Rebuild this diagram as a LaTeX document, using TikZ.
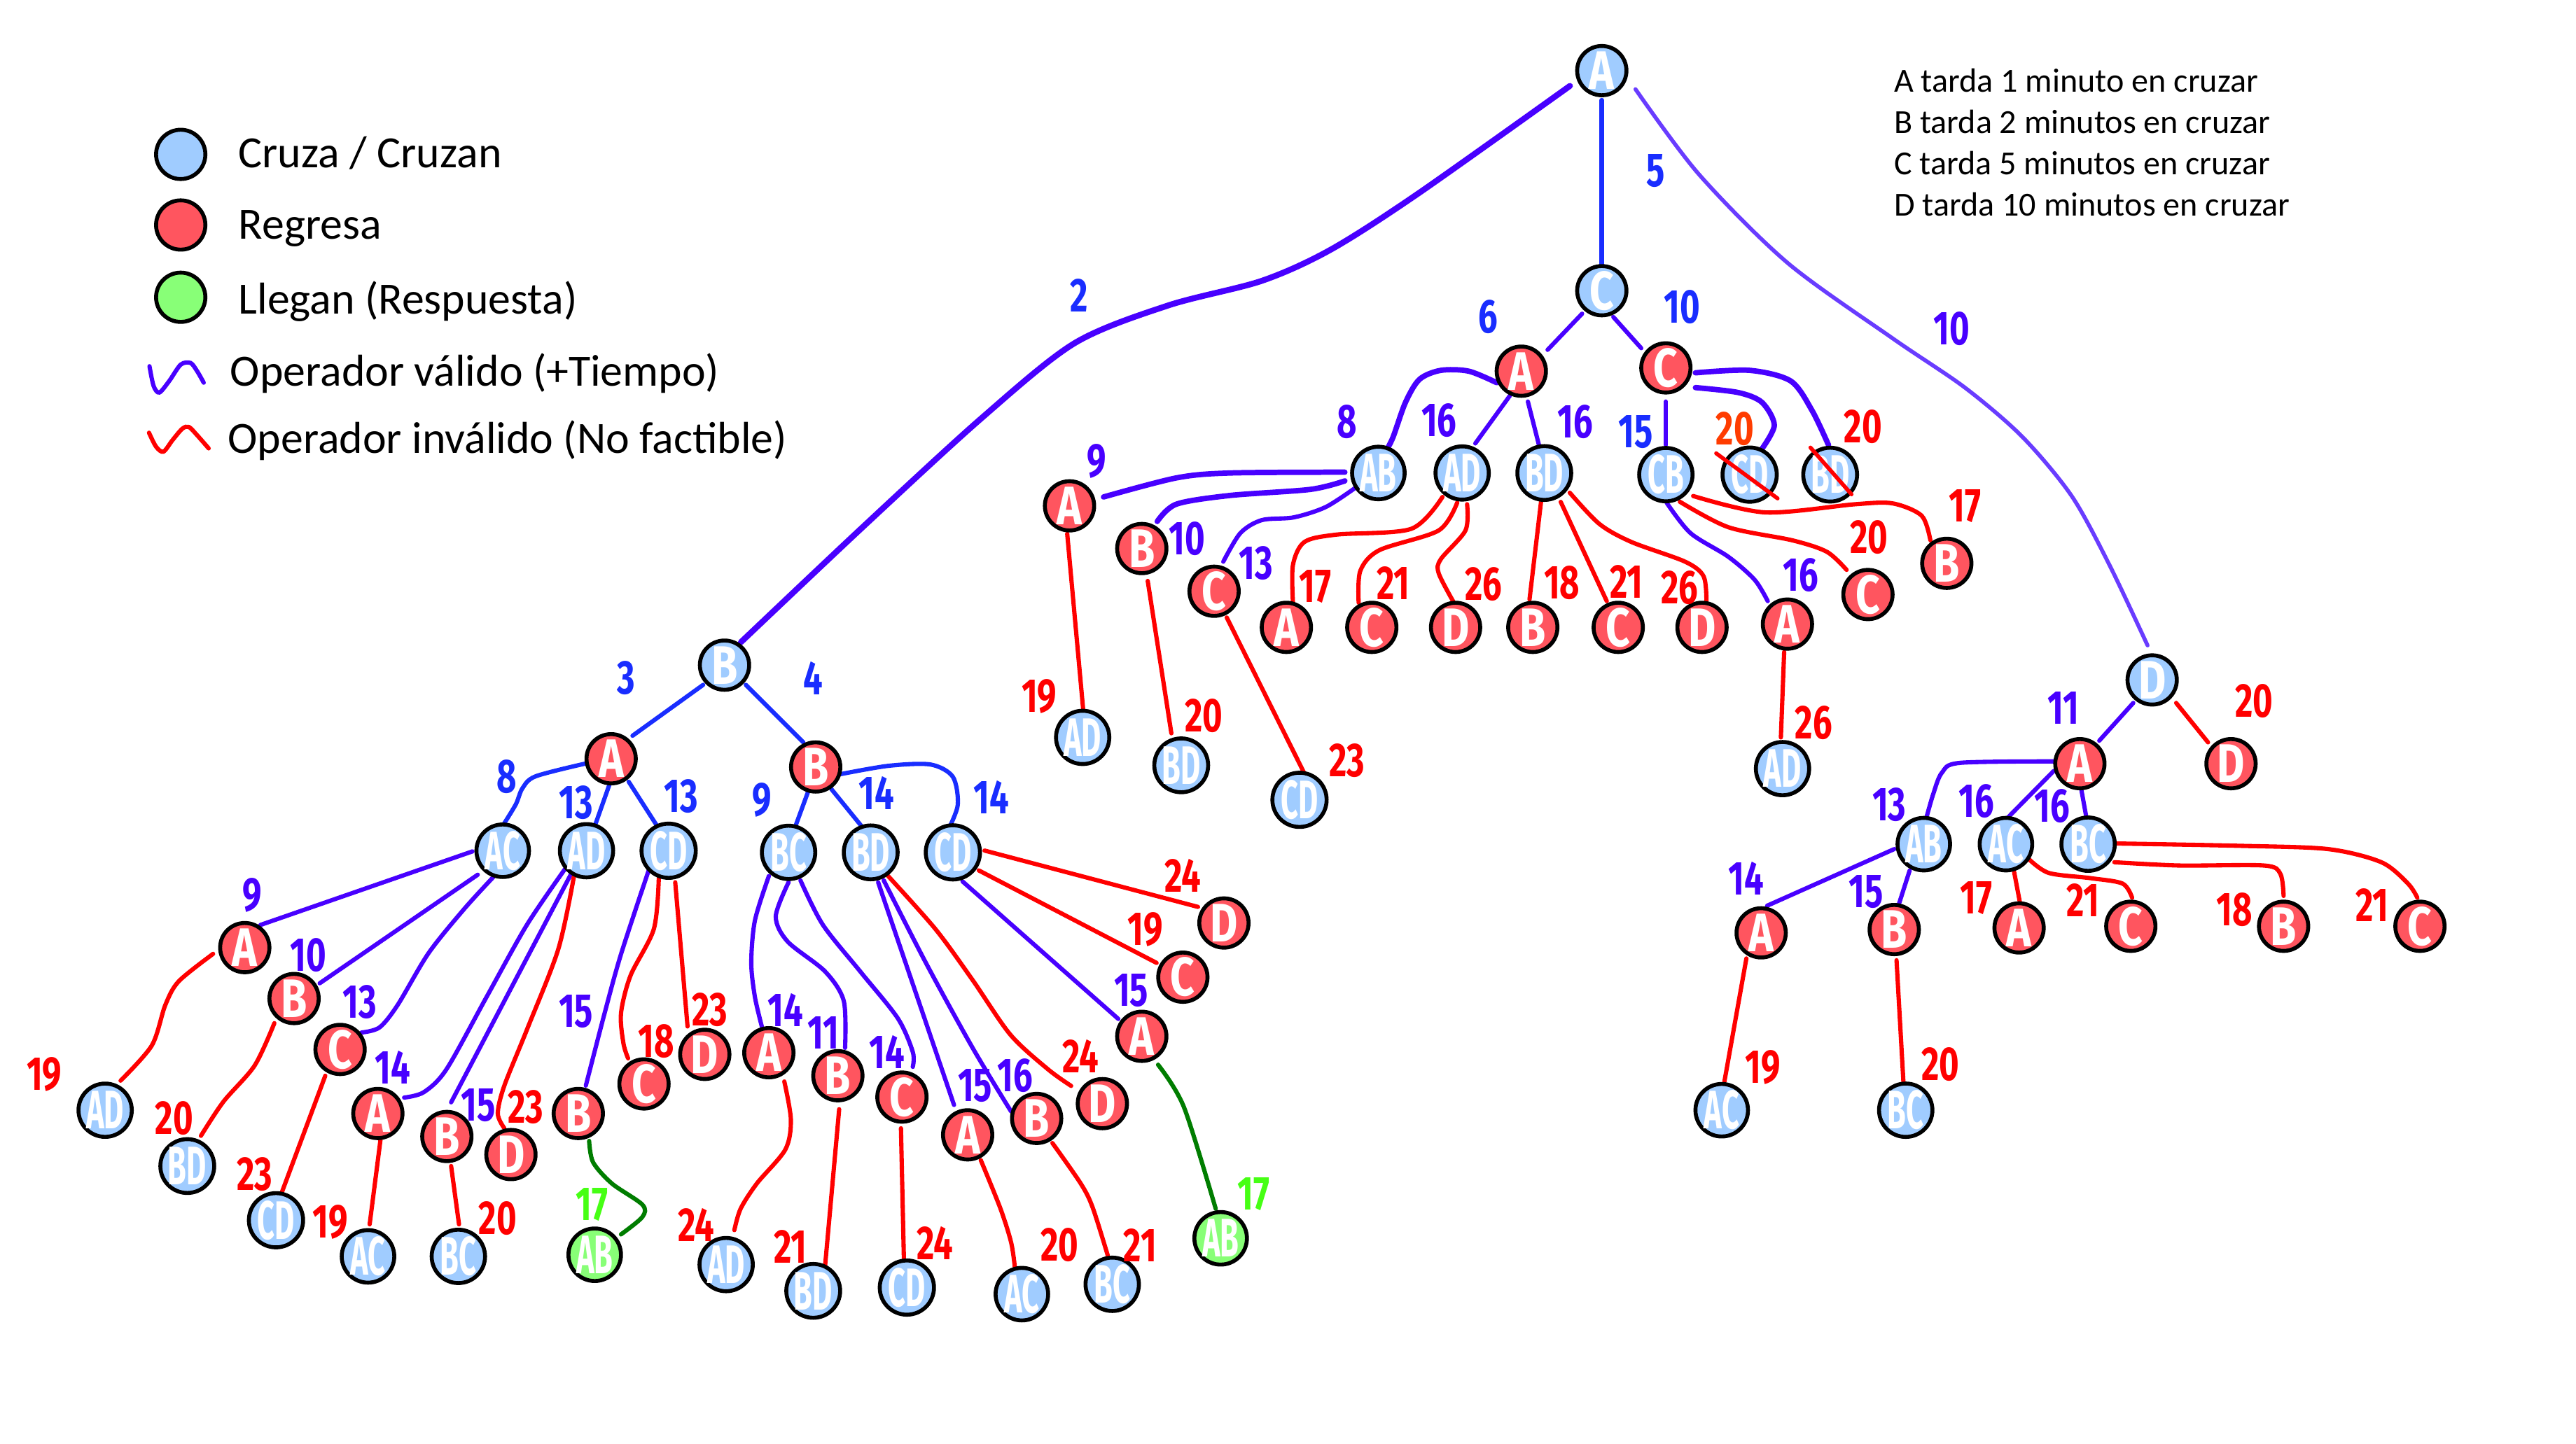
\documentclass[tikz,border=0pt]{standalone}
\usepackage{fontspec}
\setmainfont{Carlito}
\newfontfamily\handfont{Fira Sans}[Numbers=Proportional]
\usetikzlibrary{calc}
\pgfdeclarelayer{paper}
\pgfdeclarelayer{links}
\pgfsetlayers{paper,links,main}

\definecolor{nodeblue}{RGB}{160,204,255}
\definecolor{nodered}{RGB}{255,85,95}
\definecolor{nodegreen}{RGB}{136,255,119}
\definecolor{opblue}{RGB}{25,45,255}
\definecolor{oppurple}{RGB}{72,0,255}
\definecolor{oplilac}{RGB}{105,60,255}
\definecolor{opred}{RGB}{255,0,0}
\definecolor{oporange}{RGB}{255,60,0}
\definecolor{okgreen}{RGB}{0,125,0}
\definecolor{oklabel}{RGB}{70,255,20}

% state node with one person: name, style, x, y, text
\newcommand\st[5]{\node[#2] (#1) at (#3,#4) {\scalebox{0.78}[1]{#5}};}
% state node with two people (squeezed lettering)
\newcommand\stp[5]{\node[#2] (#1) at (#3,#4) {\scalebox{0.56}[1]{#5}};}
% cost label: name, colour, x, y, text
\newcommand\lbl[5]{\node[costlab,text=#2] (#1) at (#3,#4) {\scalebox{0.72}[1]{#5}};}

\tikzset{
  nd/.style={circle, draw=black, line width=2.4pt, minimum size=30pt, inner sep=0pt,
             text=white, font=\handfont\bfseries\fontsize{33}{33}\selectfont},
  cz/.style={nd, fill=nodeblue},
  rg/.style={nd, fill=nodered},
  ok/.style={nd, fill=nodegreen},
  costlab/.style={inner sep=0pt, font=\handfont\bfseries\fontsize{29}{29}\selectfont},
  link/.style={line width=2.6pt, line cap=round},
  plink/.style={link, draw=oppurple},
  blink/.style={link, draw=opblue},
  rlink/.style={link, draw=opred},
  glink/.style={link, draw=okgreen},
  thk/.style={line width=3.3pt},
  crs/.style={draw=opred, line width=2.4pt, line cap=round},
  legtext/.style={anchor=base west, inner sep=0pt, font=\fontsize{27.2}{30}\selectfont},
  infotext/.style={anchor=base west, inner sep=0pt, font=\fontsize{20.5}{24}\selectfont},
}

\begin{document}
\begin{tikzpicture}[x=1pt, y=-1pt]
\useasboundingbox (0,0) rectangle (1568,879);
\begin{pgfonlayer}{paper}
  \fill[white] (0,0) rectangle (1568,879);
\end{pgfonlayer}

% ---------- legend ----------
\st{k1}{cz}{110}{94}{}
\st{k2}{rg}{110}{137}{}
\st{k3}{ok}{110}{181}{}
\node[legtext] (t1) at (145,102) {Cruza / Cruzan};
\node[legtext] (t2) at (145,145.6) {Regresa};
\node[legtext] (t3) at (145,191.2) {Llegan (Respuesta)};
\node[legtext] (t4) at (140,235) {Operador válido (+Tiempo)};
\node[legtext] (t5) at (138.6,276) {Operador inválido (No factible)};
\draw[plink] plot[smooth] coordinates {(91,223) (93.5,235) (97,239) (103,232) (110,222) (116,221) (120,226) (124,233)};
\draw[rlink] plot[smooth] coordinates {(90.7,263.5) (95,272) (99.5,275) (105,268) (111,261) (115,260) (120,265) (127,273)};

% ---------- crossing times ----------
\node[infotext] (i1) at (1152.7,56.2) {A tarda 1 minuto en cruzar};
\node[infotext] (i2) at (1152.7,81.3) {B tarda 2 minutos en cruzar};
\node[infotext] (i3) at (1152.7,106.2) {C tarda 5 minutos en cruzar};
\node[infotext] (i4) at (1152.7,131.6) {D tarda 10 minutos en cruzar};

% ---------- states ----------
\st{r}{cz}{975}{43}{A}
\st{b1}{cz}{441}{405}{B}
\st{c1}{cz}{975}{177}{C}
\st{d1}{cz}{1310}{414}{D}
% C branch
\st{ca}{rg}{926}{226}{A}
\st{cc}{rg}{1014}{224}{C}
\stp{cab}{cz}{839}{288}{AB}
\stp{cad}{cz}{890}{288}{AD}
\stp{cbd}{cz}{940}{288}{BD}
\stp{ccb}{cz}{1014}{289}{CB}
\stp{ccd}{cz}{1065}{289}{CD}
\stp{cbdx}{cz}{1114}{289}{BD}
\st{caba}{rg}{651}{308}{A}
\st{cabb}{rg}{695}{334}{B}
\st{cabc}{rg}{739}{360}{C}
\stp{cabaL}{cz}{659}{449}{AD}
\stp{cabbL}{cz}{719}{466}{BD}
\stp{cabcL}{cz}{791}{487}{CD}
\st{cada}{rg}{783}{382}{A}
\st{cadc}{rg}{835}{382}{C}
\st{cadd}{rg}{886}{382}{D}
\st{cbdb}{rg}{933}{382}{B}
\st{cbdc}{rg}{985}{382}{C}
\st{cbdd}{rg}{1036}{382}{D}
\st{ccba}{rg}{1088}{380}{A}
\st{ccbc}{rg}{1137}{362}{C}
\st{ccbb}{rg}{1185}{343}{B}
\stp{ccbaL}{cz}{1085}{468}{AD}
% D branch
\st{da}{rg}{1266}{465}{A}
\st{dd}{rg}{1358}{465}{D}
\stp{dab}{cz}{1171}{514}{AB}
\stp{dac}{cz}{1221}{514}{AC}
\stp{dbc}{cz}{1271}{514}{BC}
\st{daba}{rg}{1072}{568}{A}
\st{dabb}{rg}{1153}{566}{B}
\st{daca}{rg}{1229}{565}{A}
\st{dacc}{rg}{1297}{564}{C}
\st{dbcb}{rg}{1390}{564}{B}
\st{dbcc}{rg}{1473}{564}{C}
\stp{dabaL}{cz}{1048}{676}{AC}
\stp{dabbL}{cz}{1160}{676}{BC}
% B branch
\st{ba}{rg}{372}{462}{A}
\st{bb}{rg}{496.5}{467}{B}
\stp{bac}{cz}{306}{518}{AC}
\stp{bad}{cz}{357}{518}{AD}
\stp{bcd}{cz}{407}{518}{CD}
\st{baca}{rg}{149}{577}{A}
\st{bacb}{rg}{179}{608}{B}
\st{bacc}{rg}{207}{639}{C}
\stp{bacaL}{cz}{64}{676}{AD}
\stp{bacbL}{cz}{114}{710}{BD}
\stp{baccL}{cz}{168}{743}{CD}
\st{bada}{rg}{230}{678}{A}
\st{badb}{rg}{272}{692}{B}
\st{badd}{rg}{311}{703}{D}
\stp{badaL}{cz}{224}{765}{AC}
\stp{badbL}{cz}{279}{765}{BC}
\st{bcdb}{rg}{352}{678}{B}
\st{bcdc}{rg}{392}{660}{C}
\st{bcdd}{rg}{429}{642}{D}
\stp{bcdbL}{ok}{362}{764}{AB}
\stp{bbc}{cz}{480}{519}{BC}
\stp{bbd}{cz}{530}{519}{BD}
\stp{bbx}{cz}{580}{519}{CD}
\st{bbca}{rg}{468}{641}{A}
\st{bbcb}{rg}{510}{655}{B}
\st{bbcc}{rg}{549}{668}{C}
\stp{bbcaL}{cz}{442}{770}{AD}
\stp{bbcbL}{cz}{495}{786}{BD}
\stp{bbccL}{cz}{552}{784}{CD}
\st{bbda}{rg}{589}{691}{A}
\st{bbdb}{rg}{631}{681}{B}
\st{bbdd}{rg}{671}{672}{D}
\stp{bbdaL}{cz}{622}{788}{AC}
\stp{bbdbL}{cz}{677}{782}{BC}
\st{bbxd}{rg}{745}{562}{D}
\st{bbxc}{rg}{720}{595}{C}
\st{bbxa}{rg}{695}{631}{A}
\stp{bbxaL}{ok}{743}{754}{AB}

% ---------- operators ----------
\begin{pgfonlayer}{links}
% from the start state
\draw[plink, line width=3.6pt] plot[smooth] coordinates {($(r)+(-19.4,9.3)$) (863,118) (810,152) (768,171) (711,186) (654,209) (597,255) (524,322) ($(b1)+(10,-14)$)};
\draw[blink, line width=2.8pt] ($(r)+(0,18)$) -- ($(c1)+(0,-16)$);
\draw[link, draw=oplilac, line width=2.4pt] plot[smooth] coordinates {($(r)+(20.5,11.3)$) (1034,106) (1088,160) (1152,206) (1196,236) (1231,266) (1261,302) (1284,344) ($(d1)+(-2.8,-21)$)};

% C branch
\draw[plink] ($(c1)+(-12,14)$) -- ($(ca)+(16,-13)$);
\draw[plink] ($(c1)+(7,16)$) -- ($(cc)+(-15,-12)$);
\draw[plink, thk] plot[smooth] coordinates {($(ca)+(-15,7)$) (894,226) (877,225.5) (864,231) (855.5,245) (848,266) ($(cab)+(5,-14)$)};
\draw[plink] ($(ca)+(-7,15)$) -- ($(cad)+(8,-18)$);
\draw[plink] ($(ca)+(4,18.5)$) -- ($(cbd)+(-3,-16)$);
\draw[plink] ($(cc)+(0,20.5)$) -- ($(ccb)+(0,-18)$);
\draw[plink, thk] plot[smooth] coordinates {($(cc)+(18,12)$) (1058,239) (1072.5,245) (1080,259) ($(ccd)+(7,-15)$)};
\draw[plink, thk] plot[smooth] coordinates {($(cc)+(18,3)$) (1065,225.5) (1090,232) (1103,250) ($(cbdx)+(-1,-18)$)};
\draw[plink, thk] plot[smooth] coordinates {($(cab)+(-20.4,-0.5)$) (748.5,288) (716,291) ($(caba)+(20.7,-5.4)$)};
\draw[plink, thk] plot[smooth] coordinates {($(cab)+(-20.4,4.8)$) (797.5,298) (748.5,301.7) (716,307) ($(cabb)+(9.4,-16.5)$)};
\draw[plink] plot[smooth] coordinates {($(cab)+(-14,9)$) (807,308.7) (787.6,315) (768,316.7) (755,324.6) ($(cabc)+(5.6,-18)$)};
\draw[rlink] ($(caba)+(-1.4,17)$) -- ($(cabaL)+(0.4,-16)$);
\draw[rlink] ($(cabb)+(3.6,19.7)$) -- ($(cabbL)+(-6,-19.5)$);
\draw[rlink] ($(cabc)+(7.7,16)$) -- ($(cabcL)+(3,-16)$);
\draw[rlink] plot[smooth] coordinates {($(cad)+(-12,14.6)$) (859,322) (813.6,325.5) (794,330) (787,344) ($(cada)+(4,-15)$)};
\draw[rlink] plot[smooth] coordinates {($(cad)+(-3,18)$) (875.7,323) (839.6,335) (828,347.6) ($(cadc)+(-8,-15)$)};
\draw[rlink] plot[smooth] coordinates {($(cad)+(3,19)$) (892,323) (877,340.5) (875.7,349) ($(cadd)+(-1,-15)$)};
\draw[rlink] ($(cbd)+(-2,17.6)$) -- ($(cbdb)+(-2,-17)$);
\draw[rlink] ($(cbd)+(10,17.6)$) -- ($(cbdc)+(-7,-16)$);
\draw[rlink] plot[smooth] coordinates {($(cbd)+(15.5,12)$) (973.5,319) (993,330) (1025.7,342) (1037,351) ($(cbdd)+(2.7,-15)$)};
\draw[rlink] plot[smooth] coordinates {($(ccb)+(16.6,13)$) (1074.5,312) (1129.5,307) (1152,306.5) (1169.7,314) ($(ccbb)+(-10,-14)$)};
\draw[rlink] plot[smooth] coordinates {($(ccb)+(8.5,16.5)$) (1052,321) (1091,329) (1112,336) ($(ccbc)+(-13,-15)$)};
\draw[plink] plot[smooth] coordinates {($(ccb)+(0.4,17)$) (1029,324.6) (1052,339) (1068,353) ($(ccba)+(-12,-14)$)};
\draw[rlink] ($(ccba)+(-2,17)$) -- ($(ccbaL)+(-1,-19)$);

% D branch
\draw[plink] ($(d1)+(-11.5,14)$) -- ($(da)+(11.8,-14)$);
\draw[rlink] ($(d1)+(14.6,14)$) -- ($(dd)+(-14,-13)$);
\draw[plink] plot[smooth] coordinates {($(da)+(-16,-1.4)$) (1193,464.5) (1182,470.5) (1176.7,483.6) ($(dab)+(1,-14)$)};
\draw[plink] ($(da)+(-16,4.5)$) -- ($(dac)+(-1,-14)$);
\draw[plink] ($(da)+(1,16.4)$) -- ($(dbc)+(-1,-16)$);
\draw[plink] ($(dab)+(-18,3)$) -- ($(daba)+(3.6,-16.5)$);
\draw[plink] ($(dab)+(-8.6,16)$) -- ($(dabb)+(3,-16)$);
\draw[rlink] ($(dac)+(5,17)$) -- ($(daca)+(0.4,-16)$);
\draw[rlink] plot[smooth] coordinates {($(dac)+(13.5,8.7)$) (1247,531.5) (1272.5,534.7) (1292,538) ($(dacc)+(0.8,-17.4)$)};
\draw[rlink] plot[smooth] coordinates {($(dbc)+(16,11)$) (1326.6,527) (1378,527) (1388,532) ($(dbcb)+(0,-18.5)$)};
\draw[rlink] plot[smooth] coordinates {($(dbc)+(17.7,-0.4)$) (1362.8,515) (1417,517) (1449.5,525) (1465.7,538) ($(dbcc)+(-1.6,-17.4)$)};
\draw[rlink] ($(daba)+(-9,15.6)$) -- ($(dabaL)+(1.6,-17.3)$);
\draw[rlink] ($(dabb)+(1.4,18.7)$) -- ($(dabbL)+(-1.3,-15.2)$);

% B branch
\draw[blink] ($(b1)+(-13,12)$) -- ($(ba)+(13,-14)$);
\draw[blink] ($(b1)+(13,12)$) -- ($(bb)+(-7.5,-15)$);
\draw[blink] plot[smooth] coordinates {($(ba)+(-16,3)$) (326,472.7) (318,480) (314,489.7) ($(bac)+(0.5,-16)$)};
\draw[blink] ($(ba)+(-1,15.6)$) -- ($(bad)+(4.5,-13.5)$);
\draw[blink] ($(ba)+(10.7,14)$) -- ($(bcd)+(-7.3,-15.5)$);
\draw[plink] ($(bac)+(-18.4,0.4)$) -- ($(baca)+(9.5,-13.8)$);
\draw[plink] ($(bac)+(-15.2,14.6)$) -- ($(bacb)+(15.6,-9.3)$);
\draw[plink] plot[smooth] coordinates {($(bac)+(-5.6,15.9)$) (282.6,553.4) (260.9,580.3) (242,612) (231,625.6) ($(bacc)+(13,-10.3)$)};
\draw[rlink] plot[smooth] coordinates {($(baca)+(-19.3,3.8)$) (108.8,597.5) (100.6,612) (92.4,636.6) ($(bacaL)+(9.4,-18)$)};
\draw[rlink] plot[smooth] coordinates {($(bacb)+(-12,15)$) (155,648.8) (136,670.8) ($(bacbL)+(8.3,-18.4)$)};
\draw[rlink] ($(bacc)+(-9,16)$) -- ($(baccL)+(3,-15.5)$);
\draw[plink] plot[smooth] coordinates {($(bad)+(-13,11)$) (320.8,563) (296.2,607) (271.8,651) (258,665) ($(bada)+(16,-9.7)$)};
\draw[plink] ($(bad)+(-9,13.4)$) -- ($(badb)+(2.6,-20.8)$);
\draw[rlink] plot[smooth] coordinates {($(bad)+(-7.7,15.9)$) (339.8,578) (320.8,626.8) (307,661) (303,678) ($(badd)+(-4,-16)$)};
\draw[rlink] ($(bada)+(1.6,16)$) -- ($(badaL)+(1,-19.5)$);
\draw[rlink] ($(badb)+(2.6,18)$) -- ($(badbL)+(0.4,-19.5)$);
\draw[plink] plot[smooth] coordinates {($(bcd)+(-12,11.5)$) (378,581) (368,617) ($(bcdb)+(4.6,-17)$)};
\draw[rlink] plot[smooth] coordinates {($(bcd)+(-6,16.7)$) (398,565.6) (383.8,594) (378,617) (379.5,635.4) ($(bcdc)+(-9.7,-15.6)$)};
\draw[rlink] ($(bcd)+(4,19.2)$) -- ($(bcdd)+(-10.5,-17)$);
\draw[glink] plot[smooth] coordinates {($(bcdb)+(6.6,16.7)$) (361,707.7) (372.4,720.6) (391,733.5) (391,741) ($(bcdbL)+(16,-12.4)$)};
\draw[blink] ($(bb)+(-3.5,12)$) -- ($(bbc)+(2.8,-12.2)$);
\draw[blink] ($(bb)+(9.5,13.4)$) -- ($(bbd)+(-4,-14)$);
\draw[blink] plot[smooth] coordinates {($(bb)+(15,4.4)$) (540.8,466.3) (566.4,465.5) (580,473) (583,490) ($(bbx)+(-2.7,-14)$)};
\draw[plink] plot[smooth] coordinates {($(bbc)+(-12,14.4)$) (459.5,560.5) (457.3,586.3) (459.5,607) ($(bbca)+(-4.3,-16)$)};
\draw[plink] plot[smooth] coordinates {($(bbc)+(0,18.2)$) (472.2,558) (479.4,573.3) (502.2,591.5) (513.6,609.5) ($(bbcb)+(4.4,-17)$)};
\draw[plink] plot[smooth] coordinates {($(bbc)+(7.2,17)$) (500.8,563) (523.6,591.5) (546.4,619.9) (555.6,640.5) ($(bbcc)+(6.6,-18.4)$)};
\draw[rlink] plot[smooth] coordinates {($(bbca)+(9.4,17.5)$) (481.4,681.8) (478,700) (460.7,720.6) (450.8,736) ($(bbcaL)+(5,-21)$)};
\draw[rlink] ($(bbcb)+(0.8,20.4)$) -- ($(bbcbL)+(7.2,-15)$);
\draw[rlink] ($(bbcc)+(-0.6,19)$) -- ($(bbccL)+(-1.8,-17)$);
\draw[plink] ($(bbd)+(4.5,18.2)$) -- ($(bbda)+(-8.3,-18.2)$);
\draw[plink] plot[smooth] coordinates {($(bbd)+(7.9,17)$) (563.6,586.3) (592,638) ($(bbdb)+(-15.6,-4.3)$)};
\draw[rlink] plot[smooth] coordinates {($(bbd)+(9.3,13)$) (569.3,565.6) (592,596.7) (615,630) (637.8,651) ($(bbdd)+(-19,-10.8)$)};
\draw[rlink] plot[smooth] coordinates {($(bbda)+(8,15.4)$) (609,736) (615.5,756.7) ($(bbdaL)+(-4.2,-15.7)$)};
\draw[rlink] plot[smooth] coordinates {($(bbdb)+(9.6,15)$) (657.8,720.6) (665,735) ($(bbdbL)+(-2.7,-17.5)$)};
\draw[rlink] ($(bbx)+(19.3,-1.1)$) -- ($(bbxd)+(-15.8,-9.8)$);
\draw[rlink] ($(bbx)+(15.8,11)$) -- ($(bbxc)+(-16,-8.7)$);
\draw[plink] ($(bbx)+(5.9,17.7)$) -- ($(bbxa)+(-14.3,-10.6)$);
\draw[glink] plot[smooth] coordinates {($(bbxa)+(9.9,17.3)$) (720.6,674) ($(bbxaL)+(-3,-18)$)};
\end{pgfonlayer}

% struck-out states
\draw[crs] ($(ccd)+(-20.4,-13)$) -- ($(ccd)+(17,14.5)$);
\draw[crs] ($(cbdx)+(-12,-16.5)$) -- ($(cbdx)+(13,12)$);

% ---------- accumulated times ----------
\lbl{n1}{opblue}{657}{180}{2}
\lbl{n2}{opblue}{1008}{104}{5}
\lbl{n3}{oppurple}{1188}{200}{10}
% C branch
\lbl{n4}{opblue}{906}{193}{6}
\lbl{n5}{opblue}{1024}{187}{10}
\lbl{n6}{oppurple}{820}{257}{8}
\lbl{n7}{oppurple}{876}{256}{16}
\lbl{n8}{oppurple}{959}{257}{16}
\lbl{n9}{opblue}{995.6}{263}{15}
\lbl{n10}{oporange}{1056}{261}{20}
\lbl{n11}{opred}{1134}{260}{20}
\lbl{n12}{oppurple}{667.5}{281}{9}
\lbl{n13}{oppurple}{722.5}{328}{10}
\lbl{n14}{oppurple}{764.6}{343}{13}
\lbl{n15}{opred}{632.6}{424}{19}
\lbl{n16}{opred}{732.8}{436}{20}
\lbl{n17}{opred}{820}{463}{23}
\lbl{n18}{opred}{800.7}{357}{17}
\lbl{n19}{opred}{848}{355}{21}
\lbl{n20}{opred}{903}{355.5}{26}
\lbl{n21}{opred}{950.7}{355}{18}
\lbl{n22}{opred}{990}{354}{21}
\lbl{n23}{opred}{1022.5}{358}{26}
\lbl{n24}{oppurple}{1096}{350}{16}
\lbl{n25}{opred}{1104}{440}{26}
\lbl{n26}{opred}{1137.6}{327}{20}
\lbl{n27}{opred}{1196}{308}{17}
% D branch
\lbl{n28}{oppurple}{1256}{431}{11}
\lbl{n29}{opred}{1372}{427}{20}
\lbl{n30}{oppurple}{1150}{490}{13}
\lbl{n31}{oppurple}{1203}{488}{16}
\lbl{n32}{oppurple}{1249}{491}{16}
\lbl{n33}{oppurple}{1063}{535}{14}
\lbl{n34}{oppurple}{1136}{543}{15}
\lbl{n35}{opred}{1203}{547}{17}
\lbl{n36}{opred}{1268}{548}{21}
\lbl{n37}{opred}{1360}{554}{18}
\lbl{n38}{opred}{1444}{551}{21}
\lbl{n39}{opred}{1073}{650}{19}
\lbl{n40}{opred}{1181}{648}{20}
% B branch
\lbl{n41}{opblue}{381}{413}{3}
\lbl{n42}{opblue}{495}{413}{4}
\lbl{n43}{opblue}{308.5}{473}{8}
\lbl{n44}{opblue}{350.6}{488.5}{13}
\lbl{n45}{opblue}{414.5}{485}{13}
\lbl{n46}{oppurple}{153.6}{545}{9}
\lbl{n47}{oppurple}{187.6}{581.5}{10}
\lbl{n48}{oppurple}{218.8}{610}{13}
\lbl{n49}{opred}{27}{654}{19}
\lbl{n50}{opred}{106}{681}{20}
\lbl{n51}{opred}{155}{715}{23}
\lbl{n52}{oppurple}{239}{650}{14}
\lbl{n53}{oppurple}{291}{673}{15}
\lbl{n54}{opred}{320}{674}{23}
\lbl{n55}{opred}{201}{744}{19}
\lbl{n56}{opred}{303}{742}{20}
\lbl{n57}{oppurple}{350.6}{616}{15}
\lbl{n58}{opred}{399.6}{634}{18}
\lbl{n59}{opred}{432}{615}{23}
\lbl{n60}{oklabel}{360.4}{733.5}{17}
\lbl{n61}{opblue}{464}{487}{9}
\lbl{n62}{opblue}{533.6}{483}{14}
\lbl{n63}{opblue}{603.5}{485.6}{14}
\lbl{n64}{oppurple}{478}{615}{14}
\lbl{n65}{oppurple}{501}{629}{11}
\lbl{n66}{oppurple}{540}{640.5}{14}
\lbl{n67}{oppurple}{593.5}{661}{15}
\lbl{n68}{oppurple}{618}{655}{16}
\lbl{n69}{opred}{657.6}{643}{24}
\lbl{n70}{opred}{720}{533}{24}
\lbl{n71}{opred}{697}{566}{19}
\lbl{n72}{oppurple}{688.6}{603}{15}
\lbl{n73}{opred}{423.7}{746}{24}
\lbl{n74}{opred}{481}{759}{21}
\lbl{n75}{opred}{569}{757}{24}
\lbl{n76}{opred}{645}{758}{20}
\lbl{n77}{opred}{694}{758}{21}
\lbl{n78}{oklabel}{763}{727}{17}
\end{tikzpicture}
\end{document}
